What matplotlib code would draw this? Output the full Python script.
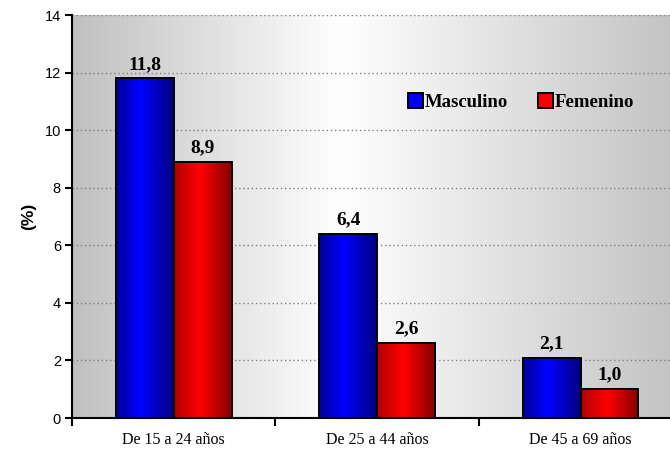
import numpy as np
import matplotlib
matplotlib.use("Agg")
import matplotlib.pyplot as plt
from matplotlib.colors import LinearSegmentedColormap
from matplotlib.patches import Patch

categories = ["De 15 a 24 años", "De 25 a 44 años", "De 45 a 69 años"]
masculino = [11.8, 6.4, 2.1]
femenino = [8.9, 2.6, 1.0]
value_fmt = lambda v: f"{v:.1f}".replace(".", ",")
yticks = [0, 2, 4, 6, 8, 10, 12, 14]

fig = plt.figure(figsize=(6.7, 4.59), dpi=100)
ax = fig.add_axes([0.1075, 0.0893, 0.8925, 0.8778])

# background gradient grey -> white -> grey
bg_cmap = LinearSegmentedColormap.from_list("bg", [(0, "#c0c0c0"), (0.45, "#ffffff"), (1, "#c4c4c4")])
grad = np.linspace(0, 1, 256).reshape(1, -1)
ax.imshow(grad, cmap=bg_cmap, aspect="auto", extent=(0, 1, 0, 1),
          transform=ax.transAxes, zorder=-1, interpolation="bicubic")
ax.patch.set_visible(False)

x = np.arange(len(categories))
w = 0.285
blue_cmap = LinearSegmentedColormap.from_list("b", [(0, "#00009a"), (0.42, "#0000ff"), (1, "#000080")])
red_cmap = LinearSegmentedColormap.from_list("r", [(0, "#b00000"), (0.45, "#ff0000"), (1, "#850000")])

for vals, off, cmap, base in [(masculino, -w / 2, blue_cmap, "#0000ff"),
                              (femenino, w / 2, red_cmap, "#ff0000")]:
    bars = ax.bar(x + off, vals, width=w, color=base, edgecolor="none", zorder=2)
    for b in bars:
        x0, y0, bw, bh = b.get_x(), b.get_y(), b.get_width(), b.get_height()
        im = ax.imshow(grad, cmap=cmap, aspect="auto", extent=(x0, x0 + bw, y0, y0 + bh),
                       zorder=2.1, interpolation="bicubic")
        im.set_clip_path(b)
    ax.bar(x + off, vals, width=w, fill=False, edgecolor="black", linewidth=1.4, zorder=3)
    for xi, v in zip(x + off, vals):
        ax.annotate(value_fmt(v), (xi, v), xytext=(0, 4), textcoords="offset points",
                    ha="center", va="bottom", fontsize=14, fontweight="bold",
                    family="Liberation Serif", zorder=4)

ax.set_xlim(-0.5, 2.44)
ax.set_ylim(0, 14)
ax.set_yticks(yticks)
ax.set_yticklabels([str(t) for t in yticks], family="Liberation Sans", fontsize=10.5)
ax.yaxis.grid(True, linestyle=(0, (1, 2)), color="#808080", linewidth=1.0, zorder=0.5)
ax.set_axisbelow(True)

ax.set_xticks(x)
ax.set_xticklabels(categories, family="Liberation Serif", fontsize=11.5)
ax.set_xticks([-0.5, 0.5, 1.5], minor=True)
ax.tick_params(axis="x", which="major", length=0, pad=10)
ax.tick_params(axis="x", which="minor", length=6, width=1.5, direction="out")
ax.tick_params(axis="y", length=5, width=1.5, direction="out", pad=3)

for s in ["top", "right"]:
    ax.spines[s].set_visible(False)
for s in ["left", "bottom"]:
    ax.spines[s].set_linewidth(1.5)

ax.set_ylabel("(%)", family="Liberation Sans", fontweight="bold", fontsize=12.5, labelpad=6)

handles = [Patch(facecolor="#0000ff", edgecolor="black", linewidth=1.4),
           Patch(facecolor="#ff0000", edgecolor="black", linewidth=1.4)]
ax.legend(handles, ["Masculino", "Femenino"], ncol=2, frameon=False,
          loc="center", bbox_to_anchor=(0.751, 0.784), handlelength=0.8, handleheight=0.8,
          handletextpad=0.1, columnspacing=1.6,
          prop={"family": "Liberation Serif", "weight": "bold", "size": 13.5})

fig.savefig("out.png", dpi=100)
